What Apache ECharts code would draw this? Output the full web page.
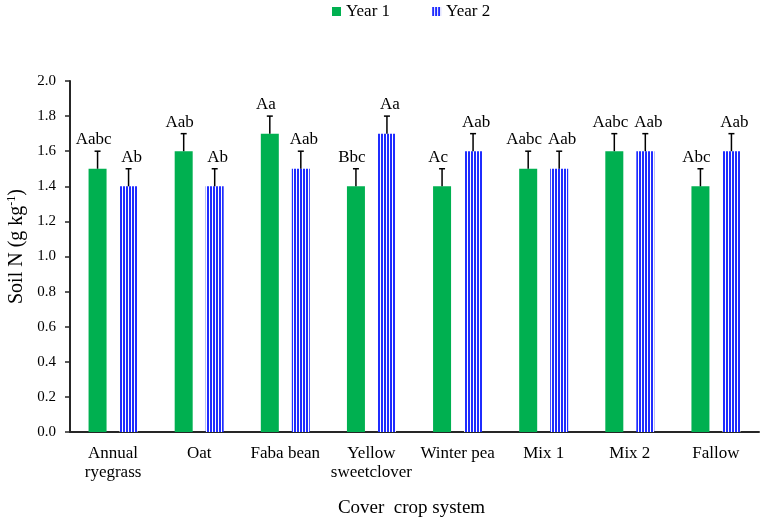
<!DOCTYPE html>
<html><head><meta charset="utf-8">
<script src="https://cdn.jsdelivr.net/npm/echarts@6/dist/echarts.min.js"></script>
<style>html,body{margin:0;padding:0;background:#fff}#c{width:762px;height:521px}</style>
</head><body><div id="c"></div>
<script>
var categories = ['Annual\nryegrass','Oat','Faba bean','Yellow\nsweetclover','Winter pea','Mix 1','Mix 2','Fallow'];
var year1 = [1.5,1.6,1.7,1.4,1.4,1.5,1.6,1.4];
var year2 = [1.4,1.4,1.5,1.7,1.6,1.5,1.6,1.6];
var err1 = [0.1,0.1,0.1,0.1,0.1,0.1,0.1,0.1];
var err2 = [0.1,0.1,0.1,0.1,0.1,0.1,0.1,0.1];
var labels1 = ['Aabc','Aab','Aa','Bbc','Ac','Aabc','Aabc','Abc'];
var labels2 = ['Ab','Ab','Aab','Aa','Aab','Aab','Aab','Aab'];

var FONT = '"Liberation Serif","Times New Roman",serif';
var GREEN = '#00b050';
var BLUE = '#1f2cff';
var BAR_W = 18, BAR_GAP = 13;

var pc = document.createElement('canvas');
pc.width = 3; pc.height = 4;
var px = pc.getContext('2d');
px.fillStyle = '#ffffff'; px.fillRect(0,0,3,4);
px.fillStyle = BLUE; px.fillRect(0,0,2,4);
var stripe = {image: pc, repeat: 'repeat'};

function errSeries(vals, errs, labs, offset, labelShift){
  var data = vals.map(function(v,i){return [i, v, errs[i]];});
  return {
    type: 'custom',
    silent: true,
    z: 5,
    data: data,
    renderItem: function(params, api){
      var i = api.value(0), v = api.value(1), e = api.value(2);
      var p0 = api.coord([i, v]);
      var p1 = api.coord([i, v + e]);
      var x = p0[0] + offset;
      var cap = 3;
      return {type:'group', children:[
        {type:'line', shape:{x1:x,y1:p0[1],x2:x,y2:p1[1]}, style:{stroke:'#000',lineWidth:1.5}},
        {type:'line', shape:{x1:x-cap,y1:p1[1],x2:x+cap,y2:p1[1]}, style:{stroke:'#000',lineWidth:1.5}},
        {type:'text', x:x+labelShift, y:p1[1]-3, style:{text: labs[i], fill:'#000', font:'17px '+FONT, align:'center', verticalAlign:'bottom'}}
      ]};
    }
  };
}

var chart = echarts.init(document.getElementById('c'));
var off = (BAR_W + BAR_GAP)/2;
chart.setOption({
  animation: false,
  textStyle: {fontFamily: FONT, color:'#000'},
  legend: {
    top: 3, left: 332, padding: 0, itemGap: 42, itemWidth: 9, itemHeight: 9,
    textStyle: {fontFamily: FONT, fontSize: 17, color:'#000'},
    data: [
      {name:'Year 1', icon:'rect', itemStyle:{color:GREEN}},
      {name:'Year 2', icon:'rect', itemStyle:{color:stripe}}
    ]
  },
  grid: {left: 70, right: 3, top: 81, bottom: 89, containLabel: false, outerBoundsMode: 'none'},
  xAxis: {
    type: 'category', data: categories,
    axisLine: {lineStyle:{color:'#262626', width:2}},
    axisTick: {show:false},
    axisLabel: {color:'#000', fontFamily: FONT, fontSize: 17, margin: 12, lineHeight: 19, interval: 0},
    name: 'Cover  crop system', nameLocation: 'middle', nameGap: 67,
    nameTextStyle: {fontFamily: FONT, fontSize: 19, color:'#000', padding:[0,6,0,0]}
  },
  yAxis: {
    type: 'value', min: 0, max: 2, interval: 0.2,
    splitLine: {show:false},
    axisLine: {show:true, lineStyle:{color:'#262626', width:2}},
    axisTick: {show:true, length:5, lineStyle:{color:'#262626', width:1.5}},
    axisLabel: {color:'#000', fontFamily: FONT, fontSize: 15, margin: 14, formatter: function(v){return v.toFixed(1);}},
    name: '{n|Soil N (g kg}{s|-1}{n|)}', nameLocation: 'middle', nameGap: 43, nameRotate: 90,
    nameTextStyle: {padding:[0,0,0,20], rich:{
      n:{fontFamily: FONT, fontSize: 20, color:'#000'},
      s:{fontFamily: FONT, fontSize: 12, color:'#000', verticalAlign:'top', padding:[0,0,9,0]}
    }}
  },
  series: [
    {name:'Year 1', type:'bar', data: year1, barWidth: BAR_W, barGap: (BAR_GAP/BAR_W*100)+'%', itemStyle:{color:GREEN}},
    {name:'Year 2', type:'bar', data: year2, barWidth: BAR_W, itemStyle:{color:stripe}},
    errSeries(year1, err1, labels1, -off, -4),
    errSeries(year2, err2, labels2, off, 3)
  ]
});
</script></body></html>
